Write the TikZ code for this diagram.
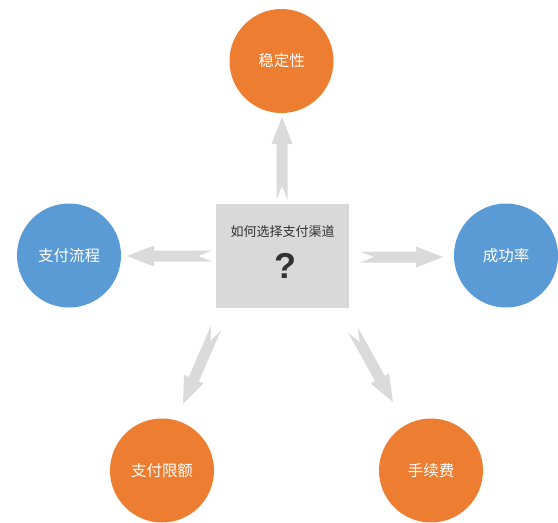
\documentclass[tikz,border=0pt]{standalone}
\usepackage{fontspec}
\setmainfont{Noto Sans CJK SC}
\newfontfamily\qfont{Liberation Sans}
\usetikzlibrary{calc}
\definecolor{topicorange}{HTML}{ED7D31}
\definecolor{topicblue}{HTML}{5B9BD5}
\definecolor{boxgray}{HTML}{D9D9D9}
\definecolor{arrowgray}{HTML}{DADADA}
\definecolor{textgray}{HTML}{333333}
\tikzset{
  topic/.style={circle,minimum size=104pt,inner sep=0pt,text=white,font=\fontsize{15.5}{18}\selectfont},
  hot/.style={topic,fill=topicorange},
  cool/.style={topic,fill=topicblue},
  question/.style={rectangle,fill=boxgray,minimum width=133pt,minimum height=104pt,inner sep=0pt}
}
% notched block arrow from tail #1 to tip #2
\newcommand{\notcharrow}[2]{%
  \coordinate (hb) at ($(#2)!27pt!(#1)$);
  \fill[arrowgray] ($(#1)!5.5pt!90:(#2)$) -- ($(hb)!5.5pt!90:(#2)$) -- ($(hb)!10.5pt!90:(#2)$) -- (#2)
    -- ($(hb)!10.5pt!-90:(#2)$) -- ($(hb)!5.5pt!-90:(#2)$) -- ($(#1)!5.5pt!-90:(#2)$) -- ($(#1)!14pt!(#2)$) -- cycle;}
\begin{document}
\begin{tikzpicture}[x=1pt,y=-1pt]
\useasboundingbox (0,0) rectangle (558,523);
% centre question
\node[question] (choice) at (282.5,256) {};
\node[text=textgray,font=\fontsize{13}{15}\selectfont] (title) at (282.5,232) {如何选择支付渠道};
\node[text=textgray,font=\qfont\bfseries\fontsize{36}{40}\selectfont] (qmark) at (285,266) {?};
% topics
\node[hot] (stable) at (281.5,61) {稳定性};
\node[cool] (flow) at (69,255.5) {支付流程};
\node[cool] (rate) at (506,255.5) {成功率};
\node[hot] (limit) at (162,470.5) {支付限额};
\node[hot] (fee) at (431,470.5) {手续费};
% arrow ends
\coordinate (upT) at (282,200);  \coordinate (upH) at (282,117);
\coordinate (lfT) at (212,256);  \coordinate (lfH) at (127,256);
\coordinate (rtT) at (360,257);  \coordinate (rtH) at (443,257);
\coordinate (dlT) at (216,328);  \coordinate (dlH) at (183,404);
\coordinate (drT) at (353,330);  \coordinate (drH) at (393,402);
\notcharrow{upT}{upH}
\notcharrow{lfT}{lfH}
\notcharrow{rtT}{rtH}
\notcharrow{dlT}{dlH}
\notcharrow{drT}{drH}
\end{tikzpicture}
\end{document}
